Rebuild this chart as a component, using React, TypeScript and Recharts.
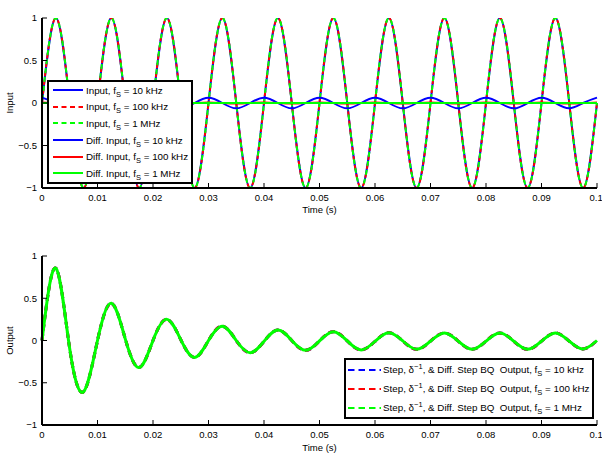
import React from 'react';
import { LineChart, Line, XAxis, YAxis, Legend, Label } from 'recharts';

const FONT = '"Liberation Sans", Arial, Helvetica, sans-serif';

// time axis, quarter-period steps of the 100 Hz input
const timeS = [
  0, 0.0025, 0.005, 0.0075, 0.01, 0.0125, 0.015, 0.0175, 0.02, 0.0225,
  0.025, 0.0275, 0.03, 0.0325, 0.035, 0.0375, 0.04, 0.0425, 0.045, 0.0475,
  0.05, 0.0525, 0.055, 0.0575, 0.06, 0.0625, 0.065, 0.0675, 0.07, 0.0725,
  0.075, 0.0775, 0.08, 0.0825, 0.085, 0.0875, 0.09, 0.0925, 0.095, 0.0975, 0.1,
];

const inputSig = [
  0, 1, 0, -1, 0, 1, 0, -1, 0, 1, 0, -1, 0, 1, 0, -1, 0, 1, 0, -1,
  0, 1, 0, -1, 0, 1, 0, -1, 0, 1, 0, -1, 0, 1, 0, -1, 0, 1, 0, -1, 0,
];

const diff10k = [
  0.063, 0, -0.063, 0, 0.063, 0, -0.063, 0, 0.063, 0, -0.063, 0, 0.063, 0, -0.063, 0,
  0.063, 0, -0.063, 0, 0.063, 0, -0.063, 0, 0.063, 0, -0.063, 0, 0.063, 0, -0.063, 0,
  0.063, 0, -0.063, 0, 0.063, 0, -0.063, 0, 0.063,
];

const diff100k = [
  0.0063, 0, -0.0063, 0, 0.0063, 0, -0.0063, 0, 0.0063, 0, -0.0063, 0, 0.0063, 0, -0.0063, 0,
  0.0063, 0, -0.0063, 0, 0.0063, 0, -0.0063, 0, 0.0063, 0, -0.0063, 0, 0.0063, 0, -0.0063, 0,
  0.0063, 0, -0.0063, 0, 0.0063, 0, -0.0063, 0, 0.0063,
];

const diff1M = [
  0.0006, 0, -0.0006, 0, 0.0006, 0, -0.0006, 0, 0.0006, 0, -0.0006, 0, 0.0006, 0, -0.0006, 0,
  0.0006, 0, -0.0006, 0, 0.0006, 0, -0.0006, 0, 0.0006, 0, -0.0006, 0, 0.0006, 0, -0.0006, 0,
  0.0006, 0, -0.0006, 0, 0.0006, 0, -0.0006, 0, 0.0006,
];

const outputSig = [
  0, 0.855, -0.1, -0.605, 0, 0.44, 0.02, -0.32, 0, 0.25,
  0.01, -0.2, 0, 0.17, 0, -0.145, -0.01, 0.124, 0, -0.116,
  -0.005, 0.104, -0.005, -0.112, -0.01, 0.092, -0.005, -0.104, -0.008, 0.089,
  -0.008, -0.104, -0.008, 0.089, -0.008, -0.104, -0.008, 0.089, -0.008, -0.1, 0,
];

const timeTicks = [0, 0.01, 0.02, 0.03, 0.04, 0.05, 0.06, 0.07, 0.08, 0.09, 0.1];
const ampTicks = [-1, -0.5, 0, 0.5, 1];

const topLegend = [
  { name: 'Input', fs: '10 kHz', color: '#0000ff', dash: '' },
  { name: 'Input', fs: '100 kHz', color: '#ff0000', dash: '5 3.5' },
  { name: 'Input', fs: '1 MHz', color: '#00ff00', dash: '5 3.5' },
  { name: 'Diff. Input', fs: '10 kHz', color: '#0000ff', dash: '' },
  { name: 'Diff. Input', fs: '100 kHz', color: '#ff0000', dash: '' },
  { name: 'Diff. Input', fs: '1 MHz', color: '#00ff00', dash: '' },
];

const bottomLegend = [
  { fs: '10 kHz', color: '#0000ff' },
  { fs: '100 kHz', color: '#ff0000' },
  { fs: '1 MHz', color: '#00ff00' },
];

const topData = timeS.map((t, i) => ({
  t,
  in10k: inputSig[i],
  in100k: inputSig[i],
  in1M: inputSig[i],
  d10k: diff10k[i],
  d100k: diff100k[i],
  d1M: diff1M[i],
}));

const bottomData = timeS.map((t, i) => ({
  t,
  o10k: outputSig[i],
  o100k: outputSig[i],
  o1M: outputSig[i],
}));

const fmtTime = (v: number) => String(v);
const fmtAmp = (v: number) => String(v).replace('-', '\u2212');

const tickText = { fill: '#000', fontSize: 9.5, fontFamily: FONT };
const axisLine = { stroke: '#000', strokeWidth: 2 };
const tickLine = { stroke: '#000', strokeWidth: 1 };

const Sub = ({ children }: { children: React.ReactNode }) => (
  <span style={{ fontSize: 7.5, position: 'relative', top: 3 }}>{children}</span>
);

function TopLegendBox() {
  return (
    <div style={{ border: '2px solid #000', background: '#fff', fontFamily: FONT, fontSize: 9.8, color: '#000' }}>
      {topLegend.map((it, i) => (
        <div key={i} style={{ display: 'flex', alignItems: 'center', height: 16.6, whiteSpace: 'pre' }}>
          <svg width={33} height={6} style={{ marginLeft: 4 }}>
            <line x1={0} y1={3} x2={30} y2={3} stroke={it.color} strokeWidth={2} strokeDasharray={it.dash || undefined} />
          </svg>
          <span>
            {it.name}, f<Sub>S</Sub> = {it.fs}
          </span>
        </div>
      ))}
    </div>
  );
}

function BottomLegendBox() {
  return (
    <div style={{ border: '2px solid #000', background: '#fff', fontFamily: FONT, fontSize: 9.8, color: '#000' }}>
      {bottomLegend.map((it, i) => (
        <div key={i} style={{ display: 'flex', alignItems: 'center', height: 19, whiteSpace: 'pre' }}>
          <svg width={35} height={6} style={{ marginLeft: 2 }}>
            <line x1={0} y1={3} x2={33} y2={3} stroke={it.color} strokeWidth={2} strokeDasharray="6.5 4" />
          </svg>
          <span>
            Step, δ<span style={{ fontSize: 7.5, position: 'relative', top: -4 }}>{'\u22121'}</span>, & Diff. Step BQ  Output, f
            <Sub>S</Sub> = {it.fs}
          </span>
        </div>
      ))}
    </div>
  );
}

const titleLabel = (main: string, baseline: number) => (props: any) => {
  const vb = props.viewBox || { x: 42, width: 555 };
  return (
    <text
      x={vb.x + vb.width / 2}
      y={baseline}
      textAnchor="middle"
      fontFamily={FONT}
      fontSize={9}
      fontWeight="bold"
      fill="#000"
    >
      {main}
      <tspan fontSize={7} dy={3}>in</tspan>
      <tspan dy={-3}> = 100 Hz</tspan>
    </text>
  );
};

export default function App() {
  return (
    <div style={{ position: 'absolute', left: 0, top: 0, width: 602, height: 458, background: '#fff' }}>
      <LineChart width={602} height={235} data={topData} margin={{ top: 18, right: 5, bottom: 0, left: 0 }}>
        <XAxis
          xAxisId="b"
          dataKey="t"
          type="number"
          domain={[0, 0.1]}
          ticks={timeTicks}
          tickFormatter={fmtTime}
          height={47}
          tickSize={-5}
          tickMargin={11}
          tick={tickText}
          axisLine={axisLine}
          tickLine={tickLine}
        >
          <Label value="Time (s)" position="insideBottom" offset={22} style={{ fontSize: 9.5, fontFamily: FONT, fill: '#000' }} />
        </XAxis>
        <XAxis
          xAxisId="top"
          orientation="top"
          dataKey="t"
          type="number"
          domain={[0, 0.1]}
          ticks={timeTicks}
          height={0}
          tickSize={-5}
          tick={false}
          axisLine={axisLine}
          tickLine={tickLine}
        >
          <Label position="top" content={titleLabel('Input and Differential Input Signals: f', 8)} />
        </XAxis>
        <YAxis
          yAxisId="l"
          type="number"
          domain={[-1, 1]}
          ticks={ampTicks}
          tickFormatter={fmtAmp}
          width={42}
          tickSize={-5}
          tickMargin={10}
          tick={tickText}
          axisLine={axisLine}
          tickLine={tickLine}
          allowDataOverflow
        >
          <Label
            value="Input"
            angle={-90}
            position="insideLeft"
            offset={10}
            style={{ fontSize: 9.5, fontFamily: FONT, fill: '#000', textAnchor: 'middle' }}
          />
        </YAxis>
        <YAxis
          yAxisId="r"
          orientation="right"
          type="number"
          domain={[-1, 1]}
          ticks={ampTicks}
          width={0}
          tickSize={-5}
          tick={false}
          axisLine={axisLine}
          tickLine={tickLine}
        />
        <Line xAxisId="b" yAxisId="l" type="natural" dataKey="in10k" stroke="#0000ff" strokeWidth={2} dot={false} isAnimationActive={false} />
        <Line xAxisId="b" yAxisId="l" type="natural" dataKey="in100k" stroke="#ff0000" strokeWidth={2} strokeDasharray="5 4" dot={false} isAnimationActive={false} />
        <Line xAxisId="b" yAxisId="l" type="natural" dataKey="in1M" stroke="#00ff00" strokeWidth={2} strokeDasharray="5 4" strokeDashoffset={6} dot={false} isAnimationActive={false} />
        <Line xAxisId="b" yAxisId="l" type="natural" dataKey="d10k" stroke="#0000ff" strokeWidth={2} dot={false} isAnimationActive={false} />
        <Line xAxisId="b" yAxisId="l" type="natural" dataKey="d100k" stroke="#ff0000" strokeWidth={2} dot={false} isAnimationActive={false} />
        <Line xAxisId="b" yAxisId="l" type="natural" dataKey="d1M" stroke="#00ff00" strokeWidth={2} dot={false} isAnimationActive={false} />
        <Legend
          layout="vertical"
          align="center"
          verticalAlign="middle"
          content={() => <TopLegendBox />}
          wrapperStyle={{ left: 47, top: 80, width: 146, height: 104 }}
        />
      </LineChart>
      <LineChart width={602} height={223} data={bottomData} margin={{ top: 21, right: 5, bottom: 0, left: 0 }}>
        <XAxis
          xAxisId="b"
          dataKey="t"
          type="number"
          domain={[0, 0.1]}
          ticks={timeTicks}
          tickFormatter={fmtTime}
          height={33}
          tickSize={-5}
          tickMargin={11}
          tick={tickText}
          axisLine={axisLine}
          tickLine={tickLine}
        >
          <Label value="Time (s)" position="insideBottom" offset={7} style={{ fontSize: 9.5, fontFamily: FONT, fill: '#000' }} />
        </XAxis>
        <XAxis
          xAxisId="top"
          orientation="top"
          dataKey="t"
          type="number"
          domain={[0, 0.1]}
          ticks={timeTicks}
          height={0}
          tickSize={-5}
          tick={false}
          axisLine={axisLine}
          tickLine={tickLine}
        >
          <Label position="top" content={titleLabel('Output Signals: f', 10)} />
        </XAxis>
        <YAxis
          yAxisId="l"
          type="number"
          domain={[-1, 1]}
          ticks={ampTicks}
          tickFormatter={fmtAmp}
          width={42}
          tickSize={-5}
          tickMargin={10}
          tick={tickText}
          axisLine={axisLine}
          tickLine={tickLine}
          allowDataOverflow
        >
          <Label
            value="Output"
            angle={-90}
            position="insideLeft"
            offset={10}
            style={{ fontSize: 9.5, fontFamily: FONT, fill: '#000', textAnchor: 'middle' }}
          />
        </YAxis>
        <YAxis
          yAxisId="r"
          orientation="right"
          type="number"
          domain={[-1, 1]}
          ticks={ampTicks}
          width={0}
          tickSize={-5}
          tick={false}
          axisLine={axisLine}
          tickLine={tickLine}
        />
        <Line xAxisId="b" yAxisId="l" type="natural" dataKey="o10k" stroke="#0000ff" strokeWidth={3} strokeDasharray="6 4" dot={false} isAnimationActive={false} />
        <Line xAxisId="b" yAxisId="l" type="natural" dataKey="o100k" stroke="#ff0000" strokeWidth={3} strokeDasharray="6 4" dot={false} isAnimationActive={false} />
        <Line xAxisId="b" yAxisId="l" type="natural" dataKey="o1M" stroke="#00ff00" strokeWidth={3} dot={false} isAnimationActive={false} />
        <Legend
          layout="vertical"
          align="center"
          verticalAlign="middle"
          content={() => <BottomLegendBox />}
          wrapperStyle={{ left: 344, top: 123, width: 250, height: 61 }}
        />
      </LineChart>
    </div>
  );
}
